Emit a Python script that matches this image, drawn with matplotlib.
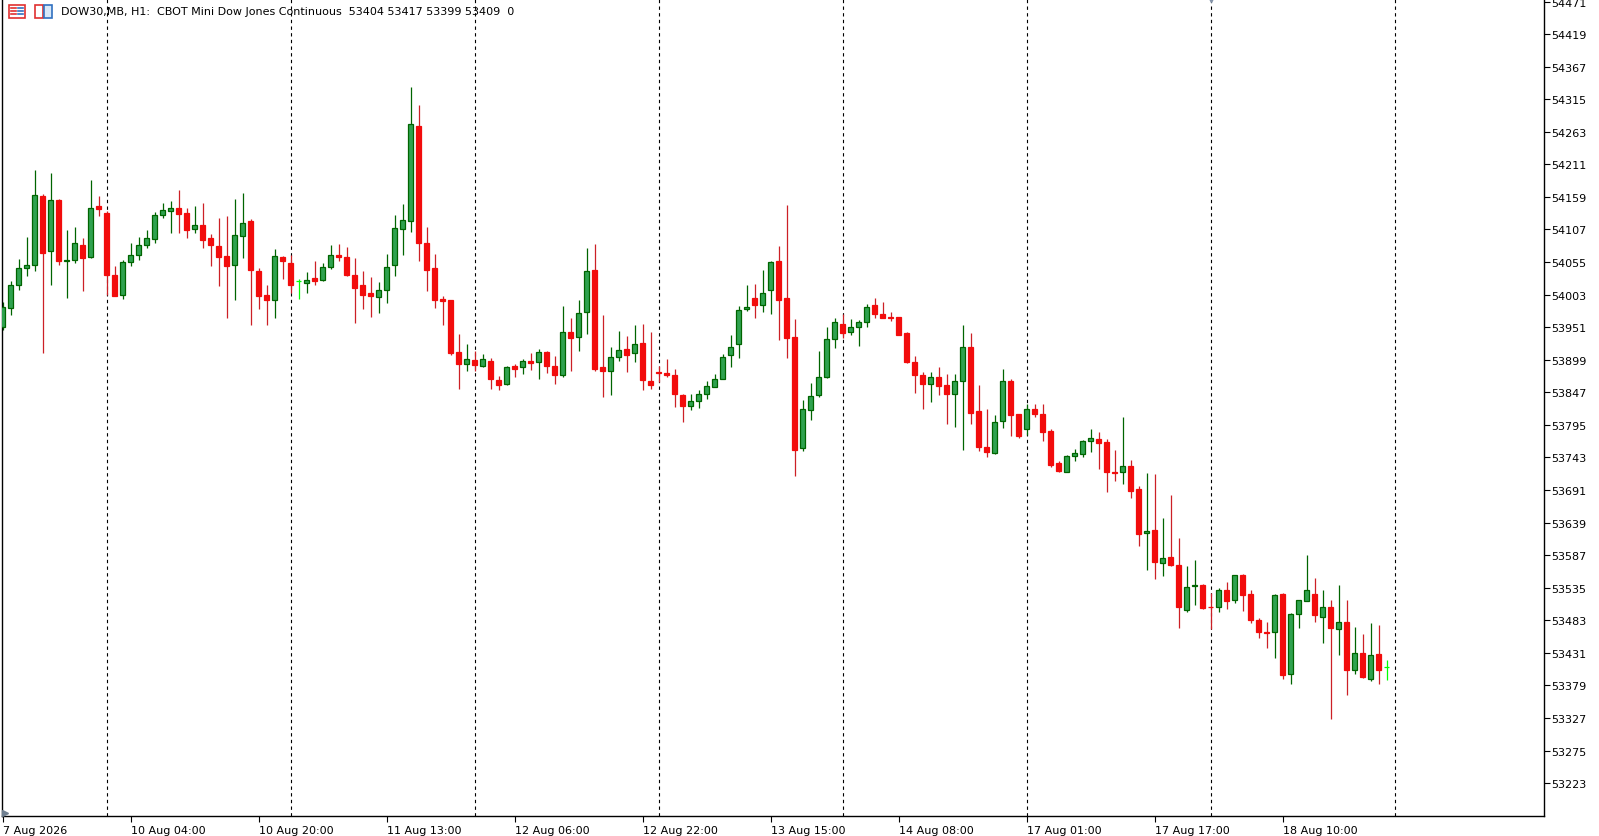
import matplotlib
matplotlib.use('Agg')
import matplotlib.pyplot as plt
import numpy as np
from matplotlib.patches import Rectangle

# hourly bars, DOW30
opens = [53952, 53982, 54019, 54046, 54051, 54160, 54072, 54154, 54057, 54059,
         54083, 54063, 54144, 54133, 54034, 54003, 54055, 54067, 54083, 54091,
         54130, 54136, 54141, 54133, 54107, 54114, 54093, 54081, 54065, 54050,
         54096, 54120, 54040, 54002, 53995, 54063, 54053, 54024, 54021, 54030,
         54026, 54047, 54066, 54063, 54034, 54019, 54006, 53999, 54010, 54050,
         54107, 54120, 54273, 54086, 54045, 53996, 53994, 53912, 53892, 53898,
         53889, 53897, 53866, 53860, 53889, 53887, 53897, 53895, 53911, 53889,
         53874, 53943, 53936, 53976, 54042, 53887, 53881, 53904, 53916, 53909,
         53925, 53865, 53879, 53878, 53874, 53842, 53825, 53833, 53845, 53855,
         53869, 53906, 53924, 53980, 53997, 53986, 54010, 54056, 53997, 53936,
         53758, 53818, 53842, 53871, 53932, 53956, 53943, 53951, 53959, 53986,
         53972, 53967, 53967, 53941, 53895, 53874, 53860, 53871, 53858, 53845,
         53865, 53920, 53817, 53760, 53750, 53801, 53865, 53812, 53788, 53821,
         53813, 53785, 53734, 53720, 53746, 53748, 53770, 53772, 53767, 53720,
         53719, 53729, 53692, 53622, 53627, 53574, 53584, 53572, 53500, 53537,
         53540, 53505, 53505, 53531, 53515, 53556, 53525, 53483, 53465, 53464,
         53525, 53398, 53493, 53514, 53525, 53489, 53504, 53469, 53481, 53403,
         53430, 53390, 53429, 53409]
highs = [53991, 54025, 54060, 54095, 54202, 54164, 54197, 54156, 54106, 54111,
         54093, 54186, 54161, 54137, 54049, 54058, 54085, 54095, 54106, 54135,
         54149, 54152, 54170, 54141, 54144, 54149, 54099, 54125, 54128, 54156,
         54165, 54124, 54045, 54018, 54076, 54064, 54067, 54028, 54039, 54056,
         54054, 54083, 54084, 54079, 54061, 54041, 54031, 54023, 54068, 54130,
         54148, 54334, 54306, 54111, 54068, 54001, 53995, 53940, 53924, 53913,
         53908, 53902, 53873, 53889, 53893, 53900, 53909, 53916, 53913, 53905,
         53985, 53966, 53994, 54077, 54084, 53970, 53919, 53945, 53937, 53954,
         53956, 53943, 53889, 53900, 53884, 53844, 53844, 53851, 53865, 53876,
         53908, 53939, 53985, 54018, 54020, 54042, 54056, 54081, 54146, 53964,
         53835, 53862, 53913, 53951, 53966, 53972, 53964, 53962, 53988, 53998,
         53991, 53975, 53968, 53943, 53905, 53879, 53879, 53887, 53876, 53876,
         53954, 53941, 53858, 53820, 53810, 53885, 53868, 53813, 53829, 53828,
         53828, 53788, 53738, 53747, 53756, 53771, 53788, 53784, 53772, 53755,
         53808, 53739, 53697, 53718, 53717, 53646, 53683, 53614, 53570, 53579,
         53541, 53527, 53534, 53544, 53556, 53557, 53531, 53486, 53480, 53525,
         53526, 53494, 53516, 53587, 53550, 53531, 53516, 53539, 53516, 53472,
         53461, 53478, 53475, 53419]
lows = [53946, 53971, 54011, 54033, 54040, 53909, 54018, 54050, 53998, 54054,
        54009, 54061, 54129, 54003, 54000, 53996, 54048, 54059, 54077, 54086,
        54126, 54102, 54102, 54094, 54101, 54078, 54048, 54016, 53965, 53995,
        54062, 53955, 53980, 53955, 53965, 54028, 54006, 53996, 54006, 54019,
        54025, 54044, 54057, 54033, 53958, 53980, 53968, 53974, 53990, 54033,
        54067, 54103, 54056, 54008, 53982, 53955, 53907, 53853, 53881, 53881,
        53887, 53853, 53851, 53859, 53872, 53877, 53883, 53869, 53878, 53861,
        53872, 53881, 53913, 53940, 53881, 53840, 53842, 53897, 53880, 53896,
        53851, 53853, 53863, 53871, 53824, 53800, 53818, 53822, 53837, 53855,
        53869, 53888, 53902, 53977, 53966, 53976, 53972, 53931, 53901, 53713,
        53754, 53803, 53840, 53870, 53918, 53934, 53939, 53921, 53952, 53966,
        53965, 53961, 53938, 53894, 53846, 53821, 53832, 53843, 53797, 53792,
        53755, 53797, 53754, 53743, 53749, 53790, 53778, 53774, 53779, 53808,
        53770, 53728, 53719, 53719, 53737, 53743, 53752, 53725, 53688, 53706,
        53701, 53679, 53602, 53564, 53549, 53554, 53569, 53470, 53497, 53508,
        53501, 53469, 53496, 53501, 53511, 53498, 53479, 53454, 53439, 53422,
        53390, 53382, 53471, 53513, 53480, 53447, 53326, 53428, 53363, 53398,
        53391, 53386, 53381, 53387]
closes = [53984, 54018, 54045, 54050, 54162, 54070, 54154, 54057, 54058, 54085,
          54062, 54141, 54140, 54035, 54001, 54055, 54066, 54082, 54093, 54130,
          54138, 54141, 54131, 54106, 54114, 54090, 54082, 54063, 54048, 54098,
          54118, 54042, 54000, 53994, 54064, 54056, 54019, 54024, 54027, 54025,
          54047, 54066, 54063, 54035, 54014, 54003, 54000, 54010, 54047, 54110,
          54122, 54275, 54085, 54042, 53994, 53992, 53910, 53893, 53900, 53890,
          53900, 53868, 53858, 53887, 53885, 53897, 53894, 53912, 53889, 53875,
          53943, 53934, 53973, 54040, 53885, 53881, 53904, 53914, 53907, 53924,
          53866, 53859, 53878, 53875, 53844, 53825, 53833, 53844, 53857, 53868,
          53904, 53920, 53978, 53984, 53986, 54005, 54055, 53995, 53934, 53755,
          53820, 53841, 53871, 53932, 53959, 53942, 53951, 53959, 53984, 53972,
          53966, 53965, 53939, 53896, 53875, 53861, 53871, 53857, 53845, 53865,
          53919, 53814, 53760, 53751, 53799, 53865, 53811, 53778, 53820, 53813,
          53784, 53731, 53721, 53746, 53750, 53770, 53774, 53766, 53720, 53718,
          53730, 53690, 53621, 53625, 53576, 53582, 53572, 53505, 53536, 53539,
          53503, 53504, 53531, 53513, 53555, 53524, 53484, 53465, 53463, 53523,
          53395, 53493, 53515, 53531, 53491, 53504, 53470, 53481, 53404, 53430,
          53392, 53427, 53403, 53409]

# first bar of each trading day (period separators)
day_starts = [13, 36, 59, 82, 105, 128, 151, 174]

# time axis labels
xtick_bars = [0, 16, 32, 48, 64, 80, 96, 112, 128, 144, 160]
xtick_labels = ['7 Aug 2026', '10 Aug 04:00', '10 Aug 20:00', '11 Aug 13:00',
                '12 Aug 06:00', '12 Aug 22:00', '13 Aug 15:00', '14 Aug 08:00',
                '17 Aug 01:00', '17 Aug 17:00', '18 Aug 10:00']

price_ticks = np.arange(53223, 54472, 52)

header = 'DOW30,MB, H1:  CBOT Mini Dow Jones Continuous  53404 53417 53399 53409  0'

W, H = 1599, 837
fig = plt.figure(figsize=(W / 100, H / 100), dpi=100)
ax = fig.add_axes([2 / W, 20 / H, 1542 / W, 817 / H])

o = np.array(opens, dtype=float)
h = np.array(highs, dtype=float)
l = np.array(lows, dtype=float)
c = np.array(closes, dtype=float)
x = np.arange(len(o))

up_fill, up_edge = '#2fa24f', '#006400'
dn_fill, dn_wick = '#f20c0c', '#cc2026'
doji_col = '#00ff00'

up = c > o
dn = c < o
flat = c == o

wick_cols = np.where(up, up_edge, np.where(dn, dn_wick, doji_col))
ax.vlines(x, l, h, colors=wick_cols, linewidth=0.9, zorder=2)

bw = 0.62
body = ~flat
ax.bar(x[body], np.abs(c - o)[body], bottom=np.minimum(o, c)[body], width=bw,
       color=np.where(up, up_fill, dn_fill)[body],
       edgecolor=np.where(up, up_edge, dn_fill)[body], linewidth=0.9, zorder=3)
ax.hlines(c[flat], x[flat] - bw / 2, x[flat] + bw / 2, colors=doji_col,
          linewidth=0.9, zorder=3)

for d in day_starts:
    ax.axvline(d, color='black', linewidth=0.8, linestyle=(0, (3, 3)), zorder=1)

ax.set_xlim(-0.1, -0.1 + 1542 / 8)
ax.set_ylim(54475 - 1.5967 * 817, 54475)

ax.yaxis.tick_right()
ax.set_yticks(price_ticks)
ax.set_yticklabels([str(p) for p in price_ticks])
ax.set_xticks(xtick_bars)
ax.set_xticklabels(xtick_labels, ha='left')
ax.tick_params(axis='y', direction='out', length=4, width=0.8, pad=1.5,
               labelsize=8, colors='black')
ax.tick_params(axis='x', direction='out', length=4, width=0.8, pad=2.5,
               labelsize=8, colors='black')

ax.spines['top'].set_visible(False)
for s in ['left', 'right', 'bottom']:
    ax.spines[s].set_linewidth(1.0)
    ax.spines[s].set_color('black')

# chart shift marker and corner marker
ax.plot([151], [1.0], marker='v', markersize=5, color='#8494aa',
        transform=ax.get_xaxis_transform(), clip_on=False, zorder=4)
ax.plot([0.002], [0.004], marker='>', markersize=5, color='#6f7f90',
        transform=ax.transAxes, clip_on=False, zorder=4)

# header icons
fig.add_artist(Rectangle((9 / W, 1 - 19 / H), 16 / W, 13 / H, transform=fig.transFigure,
                         facecolor='white', edgecolor='#e03030', linewidth=1.2))
for k in range(3):
    yy = 1 - (9 + 3 * k) / H
    fig.add_artist(plt.Line2D([11 / W, 16 / W], [yy, yy], transform=fig.transFigure,
                              color='#e03030', linewidth=1.2))
    fig.add_artist(plt.Line2D([18 / W, 23 / W], [yy, yy], transform=fig.transFigure,
                              color='#3070c0', linewidth=1.2))
fig.add_artist(Rectangle((35 / W, 1 - 19 / H), 8 / W, 13 / H, transform=fig.transFigure,
                         facecolor='white', edgecolor='#e03030', linewidth=1.2))
fig.add_artist(Rectangle((44 / W, 1 - 19 / H), 8 / W, 13 / H, transform=fig.transFigure,
                         facecolor='#d8e8f8', edgecolor='#3070c0', linewidth=1.2))

fig.text(61 / W, 1 - 12 / H, header, fontsize=8, va='center', ha='left', color='black')

fig.savefig('out.png', dpi=100, facecolor='white')
